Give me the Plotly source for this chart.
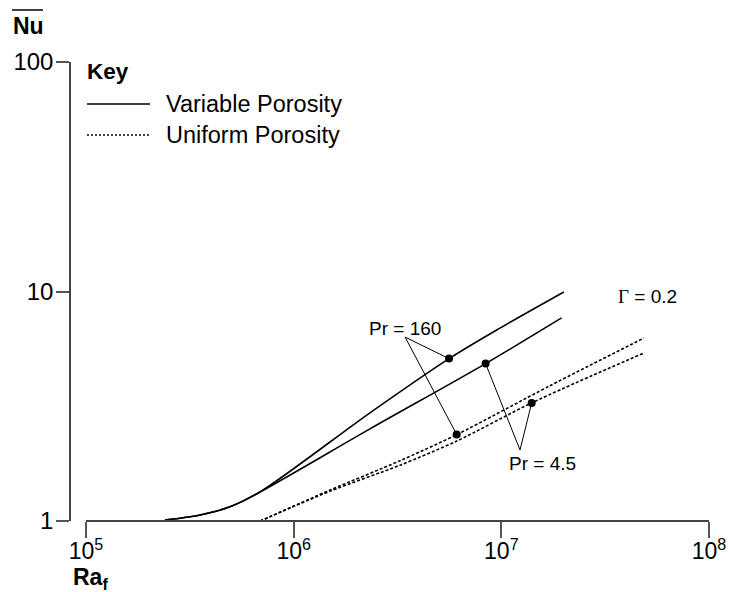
import plotly.graph_objects as go

# Average Nusselt number vs. fluid Rayleigh number, Gamma = 0.2
# Variable porosity (solid) and uniform porosity (dotted), Pr = 160 and Pr = 4.5
ra_vp_160 = [2.4e5, 3.5e5, 4.9e5, 6.9e5, 2.33e6, 5.6e6, 9.5e6, 2.0e7]
nu_vp_160 = [1.01, 1.06, 1.15, 1.34, 2.96, 5.1, 6.8, 9.95]
ra_vp_45 = [2.4e5, 3.5e5, 4.9e5, 6.9e5, 2.33e6, 8.4e6, 1.95e7]
nu_vp_45 = [1.01, 1.06, 1.15, 1.34, 2.52, 4.85, 7.67]

ra_up_160 = [6.9e5, 1.5e6, 3.25e6, 6.1e6, 1.71e7, 4.86e7]
nu_up_160 = [1.0, 1.365, 1.83, 2.38, 3.88, 6.27]
ra_up_45 = [6.9e5, 1.5e6, 3.25e6, 6.1e6, 1.40e7, 4.86e7]
nu_up_45 = [1.0, 1.35, 1.75, 2.23, 3.27, 5.40]

# marked points on each Pr pair (variable, uniform)
dot_ra_160 = [5.6e6, 6.1e6]
dot_nu_160 = [5.1, 2.38]
dot_ra_45 = [8.4e6, 1.40e7]
dot_nu_45 = [4.85, 3.27]

# label anchors where the leader lines meet
apex_160 = (3.44e6, 6.33)
apex_45 = (1.23e7, 2.04)

x_ticks = [1e5, 1e6, 1e7, 1e8]
x_ticktext = ["10<sup>5</sup>", "10<sup>6</sup>", "10<sup>7</sup>", "10<sup>8</sup>"]
y_ticks = [1, 10, 100]
y_ticktext = ["1", "10", "100"]

FONT = "Arial, Liberation Sans, sans-serif"
W, H = 729, 592
ML, MR, MT, MB = 70, 20, 62, 71
PW, PH = W - ML - MR, H - MT - MB


def px(xp):
    return (xp - ML) / PW


def py(yp):
    return (H - MB - yp) / PH


fig = go.Figure()

solid = dict(color="black", width=1.6, shape="spline", smoothing=0.8)
dotted = dict(color="black", width=1.6, dash="3px,2px", shape="spline", smoothing=0.8)

fig.add_trace(go.Scatter(x=ra_vp_160, y=nu_vp_160, mode="lines", line=solid,
                         name="Variable Porosity, Pr = 160"))
fig.add_trace(go.Scatter(x=ra_vp_45, y=nu_vp_45, mode="lines", line=solid,
                         name="Variable Porosity, Pr = 4.5"))
fig.add_trace(go.Scatter(x=ra_up_160, y=nu_up_160, mode="lines", line=dotted,
                         name="Uniform Porosity, Pr = 160"))
fig.add_trace(go.Scatter(x=ra_up_45, y=nu_up_45, mode="lines", line=dotted,
                         name="Uniform Porosity, Pr = 4.5"))

# leader lines from labels to marked points
for apex, dra, dnu in [(apex_160, dot_ra_160, dot_nu_160), (apex_45, dot_ra_45, dot_nu_45)]:
    for r, n in zip(dra, dnu):
        fig.add_trace(go.Scatter(x=[apex[0], r], y=[apex[1], n], mode="lines",
                                 line=dict(color="black", width=1), hoverinfo="skip"))

fig.add_trace(go.Scatter(x=dot_ra_160 + dot_ra_45, y=dot_nu_160 + dot_nu_45, mode="markers",
                         marker=dict(color="black", size=8)))

axis_common = dict(
    type="log", showline=True, linecolor="#444", linewidth=1.5, ticks="outside",
    tickcolor="#555", tickwidth=1.5, showgrid=False, zeroline=False,
    anchor="free", position=0, ticklabeloverflow="allow", automargin=False,
)
fig.update_layout(
    width=W, height=H,
    margin=dict(l=ML, r=MR, t=MT, b=MB, autoexpand=False),
    plot_bgcolor="white", paper_bgcolor="white",
    font=dict(family=FONT, color="black"),
    xaxis=dict(axis_common, range=[5, 8], domain=[px(86), 1], ticklen=16,
               tickvals=x_ticks, ticktext=x_ticktext, ticklabelstandoff=-6,
               tickfont=dict(family=FONT, size=23, color="black")),
    yaxis=dict(axis_common, range=[0, 2], domain=[0, 1], ticklen=13,
               tickvals=y_ticks, ticktext=y_ticktext, ticklabelstandoff=-2,
               tickfont=dict(family=FONT, size=24, color="black")),
    showlegend=False,
)

annotations = [
    dict(text="<b>Nu</b>", x=px(28), y=py(26), size=23, anchor="center"),
    dict(text="<b>Ra<sub>f</sub></b>", x=px(90), y=py(578), size=23, anchor="center"),
    dict(text="Pr = 160", x=px(405), y=py(328), size=19, anchor="center"),
    dict(text="Pr = 4.5", x=px(542), y=py(463), size=19, anchor="center"),
    dict(text="<span style='font-family:Liberation Serif, Times New Roman, serif'>\u0393</span> = 0.2",
         x=px(647), y=py(296), size=19, anchor="center"),
    # key
    dict(text="<b>Key</b>", x=px(85), y=py(71), size=22.5, anchor="left"),
    dict(text="Variable Porosity", x=px(164), y=py(104), size=23.5, anchor="left"),
    dict(text="Uniform Porosity", x=px(164), y=py(135), size=23.5, anchor="left"),
]
for a in annotations:
    fig.add_annotation(text=a["text"], x=a["x"], y=a["y"], xref="paper", yref="paper",
                       xanchor=a["anchor"], yanchor="middle", showarrow=False,
                       font=dict(family=FONT, size=a["size"], color="black"))

# key line samples
fig.add_shape(type="line", xref="paper", yref="paper", x0=px(87), x1=px(150),
              y0=py(104), y1=py(104), line=dict(color="black", width=1.6))
fig.add_shape(type="line", xref="paper", yref="paper", x0=px(87), x1=px(150),
              y0=py(135), y1=py(135), line=dict(color="black", width=1.6, dash="2px,2px"))

# overbar on Nu
fig.add_shape(type="line", xref="paper", yref="paper", x0=px(12), x1=px(43),
              y0=py(10), y1=py(10), line=dict(color="black", width=1.5))

fig.write_html("out.html")
